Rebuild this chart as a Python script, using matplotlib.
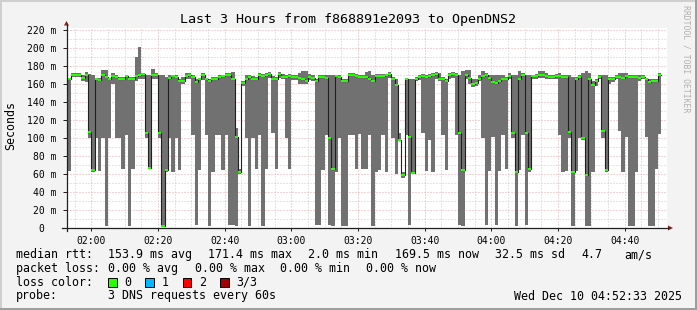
import numpy as np
import matplotlib
matplotlib.use('Agg')
import matplotlib.pyplot as plt
from matplotlib.patches import Rectangle, Polygon
from matplotlib.lines import Line2D

plt.rcParams['font.family'] = ['DejaVu Sans Mono']

# one sample per minute, first bin starts 01:52 (minutes after midnight)
t_first = 112
view_start, view_end = 112.55, 292.55   # 01:52:33 .. 04:52:33

# median rtt per minute (ms)
median_ms = [
    165, 165, 170, 170, 170, 167, 170, 107, 64, 165,
    164, 170, 168, 165, 169, 168, 165, 165, 169, 166,
    165, 169, 170, 171, 105, 67, 170, 170, 105, 2,
    64, 167, 169, 168, 163, 163, 169, 170, 168, 162,
    165, 170, 165, 163, 166, 165, 168, 169, 170, 170,
    166, 101, 62, 161, 165, 168, 166, 165, 170, 169,
    170, 171, 166, 165, 171, 168, 168, 169, 168, 168,
    167, 166, 163, 168, 167, 163, 168, 168, 167, 100,
    65, 169, 168, 163, 163, 170, 170, 169, 168, 168,
    168, 166, 163, 169, 169, 169, 170, 171, 165, 159,
    98, 59, 165, 101, 61, 166, 168, 169, 168, 169,
    170, 171, 166, 165, 163, 170, 171, 170, 105, 64,
    170, 167, 160, 161, 165, 169, 170, 167, 162, 161,
    163, 165, 165, 169, 105, 62, 165, 170, 105, 65,
    169, 169, 170, 170, 169, 168, 168, 169, 169, 168,
    168, 107, 62, 165, 168, 100, 59, 165, 159, 163,
    168, 108, 64, 165, 165, 168, 168, 167, 169, 168,
    168, 168, 167, 168, 165, 162, 163, 163, 170,
]
# lowest of the 3 pings per minute (ms)
min_ms = [
    100, 63, 168, 168, 168, 163, 162, 100, 62, 100,
    63, 100, 2, 100, 160, 100, 100, 65, 103, 2,
    65, 163, 165, 165, 100, 65, 165, 165, 100, 1,
    62, 100, 62, 100, 64, 160, 165, 165, 103, 3,
    64, 164, 103, 2, 62, 103, 103, 64, 103, 3,
    3, 2, 60, 158, 100, 2, 100, 65, 103, 2,
    65, 167, 106, 65, 167, 165, 100, 65, 164, 164,
    160, 160, 160, 164, 163, 3, 3, 64, 103, 3,
    2, 62, 100, 2, 2, 103, 103, 65, 104, 65,
    65, 103, 2, 62, 64, 103, 62, 167, 100, 60,
    97, 56, 103, 3, 60, 163, 164, 106, 63, 98,
    62, 165, 163, 103, 64, 166, 167, 103, 3, 2,
    165, 160, 157, 158, 163, 100, 3, 63, 101, 3,
    63, 103, 65, 165, 100, 2, 64, 103, 3, 62,
    165, 165, 167, 167, 165, 165, 165, 166, 103, 62,
    63, 100, 2, 63, 100, 98, 2, 2, 62, 158,
    165, 100, 62, 160, 162, 165, 108, 62, 101, 2,
    2, 62, 163, 165, 101, 2, 2, 65, 104,
]
# highest of the 3 pings per minute (ms)
max_ms = [
    167, 167, 172, 172, 172, 170, 173, 171, 170, 167,
    167, 175, 175, 167, 172, 170, 168, 168, 170, 168,
    168, 190, 201, 172, 170, 170, 177, 172, 170, 170,
    168, 170, 170, 170, 166, 168, 172, 172, 170, 166,
    167, 172, 166, 165, 168, 168, 170, 170, 172, 172,
    173, 111, 65, 163, 170, 170, 169, 168, 172, 171,
    172, 173, 169, 168, 173, 171, 170, 171, 170, 170,
    172, 174, 174, 171, 170, 166, 170, 170, 170, 170,
    170, 170, 170, 166, 166, 172, 172, 171, 170, 170,
    173, 174, 170, 171, 171, 171, 171, 173, 168, 166,
    105, 62, 167, 166, 166, 168, 170, 171, 170, 171,
    172, 173, 172, 168, 166, 172, 173, 172, 170, 174,
    176, 176, 165, 165, 170, 174, 172, 170, 170, 170,
    170, 170, 168, 172, 170, 170, 174, 172, 170, 170,
    170, 171, 174, 174, 172, 170, 170, 171, 172, 170,
    170, 170, 168, 168, 170, 172, 174, 172, 163, 165,
    170, 170, 170, 168, 168, 170, 172, 172, 172, 170,
    170, 170, 170, 170, 167, 165, 165, 165, 172,
]

tick_minutes = [120, 140, 160, 180, 200, 220, 240, 260, 280]
tick_labels = ['02:00', '02:20', '02:40', '03:00', '03:20', '03:40', '04:00', '04:20', '04:40']
y_ticks = [0, 20, 40, 60, 80, 100, 120, 140, 160, 180, 200, 220]

rtt_avg, rtt_max, rtt_min, rtt_now, rtt_sd, rtt_ams = 153.9, 171.4, 2.0, 169.5, 32.5, 4.7
loss_avg, loss_max, loss_min, loss_now = 0.00, 0.00, 0.00, 0.00
loss_names = ['0', '1', '2', '3/3']
loss_colors = ['#26ff00', '#00b8ff', '#ff0000', '#a00000']

W, H = 697, 310
def px(x, y):
    return x / W, 1 - y / H

fig = plt.figure(figsize=(W / 100, H / 100), dpi=100, facecolor='#f3f3f3')
ax = fig.add_axes([66.5 / W, (H - 228) / H, 600 / W, 200 / H])
ax.set_facecolor('white')
ymax = 222.2
ax.set_xlim(view_start, view_end)
ax.set_ylim(0, ymax)
for s in ax.spines.values():
    s.set_visible(False)

# grid
grid_c = '#cbcbcb'
mgrid_c = '#eeaaaa'
dot = (0, (1, 2))
for m in range(115, 293, 5):
    if m % 20:
        ax.axvline(m, color=grid_c, lw=0.72, ls=dot, zorder=0)
for v in range(10, 222, 20):
    ax.axhline(v, color=grid_c, lw=0.72, ls=dot, zorder=0)
for m in tick_minutes:
    ax.axvline(m, color=mgrid_c, lw=0.72, ls=dot, zorder=0.5)
for v in y_ticks[1:]:
    ax.axhline(v, color=mgrid_c, lw=0.72, ls=dot, zorder=0.5)

n = len(median_ms)
edges = t_first + np.arange(n + 1)
md = np.append(median_ms, median_ms[-1]).astype(float)
lo = np.append(min_ms, min_ms[-1]).astype(float)
hi = np.append(max_ms, max_ms[-1]).astype(float)

# smoke
ax.fill_between(edges, lo, hi, step='post', color='#717171', lw=0, zorder=2)
# median line + loss colored bars
ax.step(edges, md, where='post', color='#202020', lw=0.8, zorder=3)
sw = ymax / 200
ax.fill_between(edges, md - sw, md + sw, step='post', color=loss_colors[0], lw=0, zorder=4)

ax.set_xticks(tick_minutes)
ax.set_xticklabels(tick_labels)
ax.set_yticks(y_ticks)
ax.set_yticklabels(['0  '] + [f'{v} m' for v in y_ticks[1:]])
ax.tick_params(axis='y', length=3, width=0.72, color='#202020', pad=4, labelsize=7)
ax.tick_params(axis='x', length=2, width=0.72, color='#202020', pad=4, labelsize=7)

# axes with arrows
axis_c = '#202020'
arrow_c = '#7f1f1f'
fig.add_artist(Line2D([px(62, 0)[0], px(668, 0)[0]], [px(0, 228)[1]] * 2, color=axis_c, lw=0.9))
fig.add_artist(Line2D([px(66.5, 0)[0]] * 2, [px(0, 231)[1], px(0, 25)[1]], color=axis_c, lw=0.9))
fig.add_artist(Polygon([px(668, 225.5), px(673, 228), px(668, 230.5)], closed=True, color=arrow_c, lw=0))
fig.add_artist(Polygon([px(64, 25.5), px(66.5, 21), px(69, 25.5)], closed=True, color=arrow_c, lw=0))

# titles
fig.text(*px(347.5, 19), 'Last 3 Hours from f868891e2093 to OpenDNS2',
         ha='center', va='center', fontsize=9.6)
fig.text(*px(11, 126), 'Seconds', rotation=90, ha='center', va='center', fontsize=8.4)
fig.text(*px(686, 5), 'RRDTOOL / TOBI OETIKER', rotation=270, ha='center', va='top',
         fontsize=5.9, color='#b0b0b0')

# legend
fs = 8.4
r1, r2, r3, r4 = 254.5, 268.5, 282.3, 296
for s, x in [('median rtt:', 16), (f'{rtt_avg:.1f} ms avg', 108), (f'{rtt_max:.1f} ms max', 208),
             (f'{rtt_min:.1f} ms min', 308), (f'{rtt_now:.1f} ms now', 395),
             (f'{rtt_sd:.1f} ms sd', 495), (f'{rtt_ams:.1f}', 581), ('am/s', 624)]:
    fig.text(*px(x, r1), s, va='center', fontsize=fs)
for s, x in [('packet loss:', 16), (f'{loss_avg:.2f} % avg', 108), (f'{loss_max:.2f} % max', 195),
             (f'{loss_min:.2f} % min', 280), (f'{loss_now:.2f} % now', 366)]:
    fig.text(*px(x, r2), s, va='center', fontsize=fs)
fig.text(*px(16, r3), 'loss color:', va='center', fontsize=fs)
for i, (name, col) in enumerate(zip(loss_names, loss_colors)):
    bx = 108 + i * 37.4
    x0, y0 = px(bx, r3 + 4.5)
    fig.add_artist(Rectangle((x0, y0), 8.5 / W, 9 / H, facecolor=col, edgecolor='black', lw=0.7))
    fig.text(*px(bx + 16, r3), name, va='center', fontsize=fs)
fig.text(*px(16, r4), 'probe:', va='center', fontsize=fs)
fig.text(*px(108, r4), '3 DNS requests every 60s', va='center', fontsize=fs)
fig.text(*px(514, r4), 'Wed Dec 10 04:52:33 2025', va='center', fontsize=fs)

# shaded frame
fig.add_artist(Rectangle((0, 0), 1, 2 / H, color='#9e9e9e', lw=0))
fig.add_artist(Rectangle((1 - 2 / W, 0), 2 / W, 1, color='#9e9e9e', lw=0))
fig.add_artist(Rectangle((0, 1 - 2 / H), 1 - 2 / W, 2 / H, color='#cfcfcf', lw=0))
fig.add_artist(Rectangle((0, 2 / H), 2 / W, 1, color='#cfcfcf', lw=0))

fig.savefig('out.png', dpi=100, facecolor=fig.get_facecolor())
